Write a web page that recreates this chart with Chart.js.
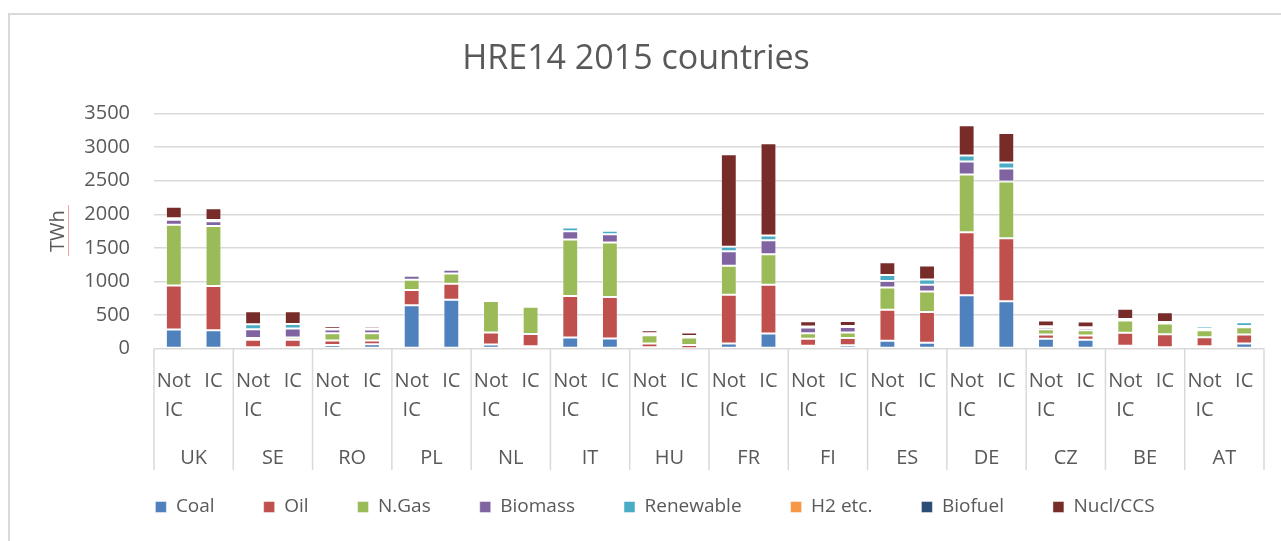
<!DOCTYPE html>
<html>
<head>
<meta charset="utf-8">
<script src="https://cdn.jsdelivr.net/npm/chart.js@4.4.1/dist/chart.umd.min.js"></script>
<style>
html,body{margin:0;padding:0;background:#fff;overflow:hidden;}
#wrap{position:relative;width:1281px;height:541px;}
#frame{position:absolute;left:8px;top:13px;width:1400px;height:700px;border:2px solid #d9d9d9;pointer-events:none;}
canvas{display:block;}
</style>
</head>
<body>
<div id="wrap"><canvas id="c" width="1281" height="541"></canvas><div id="frame"></div></div>
<script>
// ---- data (TWh), order per country: "Not IC", "IC" ----
const countries = ['UK','SE','RO','PL','NL','IT','HU','FR','FI','ES','DE','CZ','BE','AT'];
const variants = ['Not IC','IC'];
const yTicks = [0,500,1000,1500,2000,2500,3000,3500];

const coal      = [282,272, 20,20, 54,64, 644,728, 59,35, 163,149, 20,5, 74,223, 40,50, 114,84, 792,703, 144,129, 40,20, 35,74];
const oil       = [658,659, 109,109, 65,55, 227,237, 179,183, 619,618, 54,49, 728,727, 104,108, 465,461, 941,940, 64,64, 193,193, 133,134];
const nGas      = [906,896, 29,34, 109,109, 154,154, 470,406, 842,812, 124,109, 431,456, 84,80, 332,306, 861,847, 79,79, 183,158, 104,109];
const biomass   = [75,69, 129,134, 54,54, 59,54, 25,29, 123,124, 25,20, 217,208, 84,84, 94,99, 193,193, 35,35, 20,20, 25,20];
const renewable = [19,20, 74,69, 10,15, 10,10, 14,15, 55,54, 5,5, 65,69, 15,15, 89,80, 89,89, 10,10, 5,5, 40,54];
const h2        = [0,0, 0,0, 0,0, 0,0, 0,0, 0,0, 0,0, 0,0, 0,0, 0,0, 0,0, 0,0, 0,0, 0,0];
const biofuel   = [0,0, 0,0, 0,0, 0,0, 0,0, 0,0, 0,0, 0,0, 0,0, 0,0, 0,0, 0,0, 0,0, 0,0];
const nuclCcs   = [174,173, 193,188, 40,35, 0,0, 5,5, 0,0, 44,50, 1381,1376, 79,74, 193,208, 450,441, 84,84, 153,144, 0,0];

const seriesNames  = ['Coal','Oil','N.Gas','Biomass','Renewable','H2 etc.','Biofuel','Nucl/CCS'];
const seriesColors = ['#4F81BD','#C0504D','#9BBB59','#8064A2','#4BACC6','#F79646','#2C4D75','#772C2A'];
const seriesData   = [coal, oil, nGas, biomass, renewable, h2, biofuel, nuclCcs];

// category labels (wrapped like the original)
const labels = [];
countries.forEach(() => variants.forEach(v => labels.push(v.indexOf(' ') > 0 ? v.split(' ') : v)));

const FONT = "'Open Sans', 'DejaVu Sans', sans-serif";
const GREY = '#595959';
const GRID = '#d9d9d9';
const LEGEND_PAD = 49;
const LEGEND_FONT = 19;

const groupLines = {
  id: 'groupLines',
  afterDraw(chart) {
    const xs = chart.scales.x;
    const ctx = chart.ctx;
    ctx.save();
    ctx.strokeStyle = GRID;
    ctx.lineWidth = 1.5;
    for (let k = 0; k <= countries.length; k++) {
      const px = xs.getPixelForValue(2 * k - 0.5);
      ctx.beginPath();
      ctx.moveTo(px, chart.chartArea.bottom);
      ctx.lineTo(px, 470);
      ctx.stroke();
    }
    // spell-check underline next to the axis title
    ctx.strokeStyle = '#f4a3a3';
    ctx.lineWidth = 1;
    ctx.beginPath();
    ctx.moveTo(68.5, 205);
    ctx.lineTo(68.5, 256);
    ctx.stroke();
    ctx.restore();
  }
};

const legendShift = {
  id: 'legendShift',
  afterLayout(chart) {
    const lg = chart.legend;
    if (lg) {
      lg.left += 19; lg.right += 19;
      const h = lg.bottom - lg.top;
      lg.top = 507 - LEGEND_PAD - LEGEND_FONT / 2;
      lg.bottom = lg.top + h;
    }
  }
};

new Chart(document.getElementById('c'), {
  type: 'bar',
  data: {
    labels: labels,
    datasets: seriesNames.map((n, i) => ({
      label: n,
      data: seriesData[i],
      backgroundColor: seriesColors[i],
      borderColor: 'rgba(255,255,255,0.45)',
      borderWidth: 1,
      borderSkipped: false,
      categoryPercentage: 1.0,
      barPercentage: 0.4
    }))
  },
  options: {
    responsive: false,
    animation: false,
    layout: { padding: { left: 8, right: 17, top: 0, bottom: -7 } },
    plugins: {
      title: {
        display: true,
        text: 'HRE14 2015 countries',
        color: GREY,
        font: { family: FONT, size: 34, weight: 'normal' },
        padding: { top: 38.6, bottom: 34.3 }
      },
      legend: {
        position: 'bottom',
        labels: {
          color: GREY,
          font: { family: FONT, size: LEGEND_FONT },
          boxWidth: 11,
          boxHeight: 11,
          padding: LEGEND_PAD
        }
      },
      tooltip: { enabled: false }
    },
    scales: {
      x: {
        stacked: true,
        weight: 0,
        grid: { display: false },
        border: { display: false },
        ticks: {
          color: GREY,
          font: { family: FONT, size: 20, lineHeight: 1.45 },
          padding: 10,
          maxRotation: 0,
          autoSkip: false
        },
        afterFit(s) { s.height = 84; }
      },
      x2: {
        type: 'category',
        labels: countries,
        position: 'bottom',
        offset: true,
        weight: 1,
        grid: { display: false },
        border: { display: false },
        ticks: {
          color: GREY,
          font: { family: FONT, size: 20 },
          padding: 5.5,
          maxRotation: 0,
          autoSkip: false
        },
        afterFit(s) { s.height = 37.5; }
      },
      y: {
        stacked: true,
        min: 0,
        max: 3500,
        afterBuildTicks(s) { s.ticks = yTicks.map(v => ({ value: v })); },
        grid: { color: GRID, lineWidth: 1.5, drawTicks: false },
        border: { display: false },
        ticks: {
          color: GREY,
          font: { family: FONT, size: 20 },
          padding: 24,
          callback: v => String(v)
        },
        title: {
          display: true,
          text: 'TWh',
          color: GREY,
          font: { family: FONT, size: 20, weight: 'normal' },
          padding: { top: 38.4, bottom: 0 }
        },
        afterFit(s) { s.width = 146; }
      }
    }
  },
  plugins: [groupLines, legendShift]
});
</script>
</body>
</html>
